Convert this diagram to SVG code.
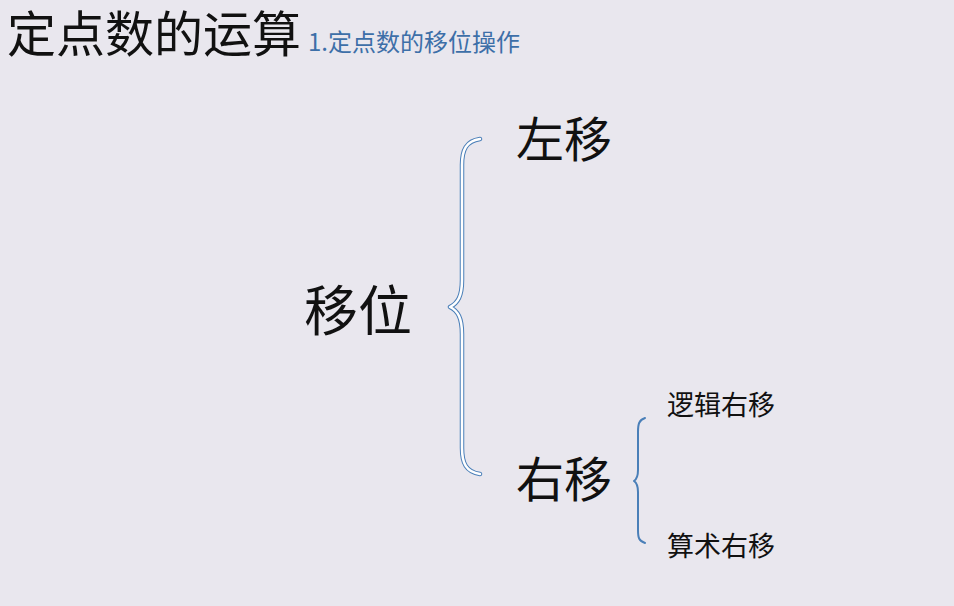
<svg xmlns="http://www.w3.org/2000/svg" width="954" height="606" viewBox="0 0 954 606">
<style>
.t{font-family:"Noto Sans CJK SC","Noto Sans",sans-serif;fill:#111;}
.sub{font-family:"Noto Sans CJK SC","Noto Sans",sans-serif;fill:#3d6fa8;}
.braceO{fill:none;stroke:#4a7fb8;stroke-width:4.5;stroke-linecap:round;stroke-linejoin:round;}
.braceI{fill:none;stroke:#ffffff;stroke-width:2.5;stroke-linecap:round;stroke-linejoin:round;}
.braceS{fill:none;stroke:#4a7fb8;stroke-width:2;stroke-linecap:round;stroke-linejoin:round;}
</style>
<rect x="0" y="0" width="954" height="606" fill="#e9e7ee"/>
<g id="title">
<text class="t" x="7" y="52" font-size="49">定点数的运算</text>
<text class="sub" x="308" y="51" font-size="24">1.定点数的移位操作</text>
</g>
<g id="connectors">
<g id="brace-main">
<path class="braceO" d="M480,139 C466,141 462,150 462,165 L462,280 C462,296 458,303 450,307 C458,311 462,318 462,334 L462,448 C462,463 466,472 480,474"/>
<path class="braceI" d="M480,139 C466,141 462,150 462,165 L462,280 C462,296 458,303 450,307 C458,311 462,318 462,334 L462,448 C462,463 466,472 480,474"/>
</g>
<path id="brace-right" class="braceS" d="M645,418 C639,420 638,424 638,432 L638,470 C638,476 637,479 634,481 C637,483 638,486 638,492 L638,530 C638,538 639,541 645,543"/>
</g>
<g id="node-yiwei"><text class="t" x="304" y="331" font-size="54">移位</text></g>
<g id="node-zuoyi"><text class="t" x="516" y="157" font-size="48">左移</text></g>
<g id="node-youyi"><text class="t" x="516" y="497" font-size="48">右移</text></g>
<g id="node-luoji"><text class="t" x="667" y="415" font-size="27">逻辑右移</text></g>
<g id="node-suanshu"><text class="t" x="667" y="556" font-size="27">算术右移</text></g>
</svg>
